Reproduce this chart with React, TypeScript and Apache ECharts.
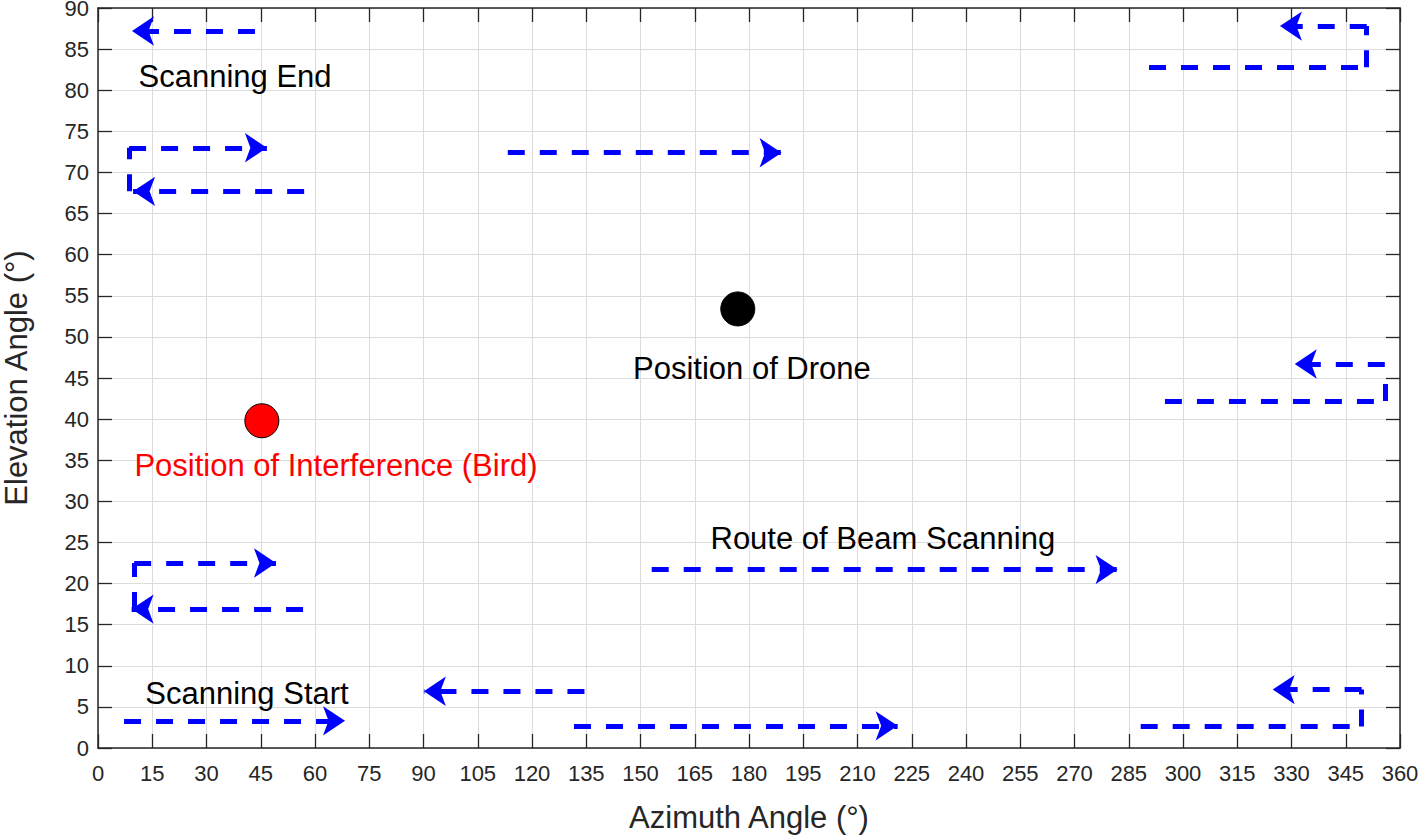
import React, { useEffect, useRef } from "react";
import * as echarts from "echarts";

// x ticks and y ticks
const xMin = 0;
const xMax = 360;
const xStep = 15;
const yMin = 0;
const yMax = 90;
const yStep = 5;

// Dashed beam-scanning segments ending with an arrow head: [x1, y1, x2(tip), y2]
const arrowSegments: number[][] = [
  [43.4, 87.2, 9.4, 87.2],
  [350.8, 87.8, 326.8, 87.8],
  [8.6, 73.0, 46.7, 73.0],
  [57.0, 67.7, 9.7, 67.7],
  [113.3, 72.4, 189.0, 72.4],
  [355.8, 46.7, 330.9, 46.7],
  [10.0, 22.5, 49.2, 22.5],
  [56.7, 16.9, 9.3, 16.9],
  [153.1, 21.7, 281.9, 21.7],
  [7.2, 3.3, 68.3, 3.3],
  [134.5, 6.9, 90.1, 6.9],
  [131.6, 2.7, 221.1, 2.7],
  [349.4, 7.1, 324.8, 7.1],
];

// Dashed connector segments without arrow heads
const plainSegments: number[][] = [
  [290.6, 82.8, 350.8, 82.8],
  [350.8, 82.8, 350.8, 87.8],
  [8.6, 67.7, 8.6, 73.0],
  [295.0, 42.2, 355.8, 42.2],
  [355.8, 42.2, 355.8, 44.8],
  [10.0, 16.9, 10.0, 22.5],
  [288.3, 2.6, 349.4, 2.6],
  [349.4, 2.6, 349.4, 7.1],
];

const dronePosition = [176.9, 53.4];
const birdPosition = [45.3, 39.8];

const blackLabels = ["Scanning End", "Position of Drone", "Route of Beam Scanning", "Scanning Start"];
const blackLabelPositions = [
  [37.9, 81.7],
  [180.8, 46.1],
  [217.0, 25.5],
  [41.2, 6.6],
];
const redLabels = ["Position of Interference (Bird)"];
const redLabelPositions = [[65.8, 34.3]];

const FONT = "Arial, 'Liberation Sans', Helvetica, sans-serif";
const AXIS_COLOR = "#262626";
const BLUE = "#0000ff";

export default function App() {
  const ref = useRef<HTMLDivElement>(null);

  useEffect(() => {
    if (!ref.current) return;
    const chart = echarts.init(ref.current, undefined, { renderer: "svg" });

    const axisCommon = {
      type: "value" as const,
      axisLine: { show: true, onZero: false, lineStyle: { color: AXIS_COLOR, width: 1.5 } },
      axisTick: { show: true, inside: true, length: 14, lineStyle: { color: AXIS_COLOR, width: 1.3 } },
    };

    const toLines = (segs: number[][]) =>
      segs.map((s) => ({ coords: [[s[0], s[1]], [s[2], s[3]]] }));

    const labelSeries = (names: string[], positions: number[][], color: string) => ({
      type: "scatter",
      xAxisIndex: 0,
      yAxisIndex: 0,
      symbol: "circle",
      symbolSize: 1,
      itemStyle: { color: "rgba(0,0,0,0)", opacity: 1 },
      silent: true,
      label: {
        show: true,
        position: "inside",
        formatter: "{b}",
        color,
        opacity: 1,
        fontSize: 31,
        fontFamily: FONT,
      },
      data: names.map((n, i) => ({ name: n, value: positions[i] })),
      z: 5,
    });

    const option: any = {
      animation: false,
      backgroundColor: "#ffffff",
      grid: {
        left: 98,
        right: 18,
        top: 8,
        bottom: 87,
        containLabel: false,
        outerBoundsMode: "none",
      },
      xAxis: [
        {
          ...axisCommon,
          position: "bottom",
          min: xMin,
          max: xMax,
          interval: xStep,
          axisLabel: { color: AXIS_COLOR, fontSize: 22, fontFamily: FONT, margin: 14 },
          splitLine: { show: true, lineStyle: { color: "#dcdcdc", width: 1 } },
          name: "Azimuth Angle (°)",
          nameLocation: "middle",
          nameGap: 54,
          nameTextStyle: { color: AXIS_COLOR, fontSize: 31, fontFamily: FONT },
        },
        {
          ...axisCommon,
          position: "top",
          min: xMin,
          max: xMax,
          interval: xStep,
          axisLabel: { show: false },
          splitLine: { show: false },
        },
      ],
      yAxis: [
        {
          ...axisCommon,
          position: "left",
          min: yMin,
          max: yMax,
          interval: yStep,
          axisLabel: { color: AXIS_COLOR, fontSize: 22, fontFamily: FONT, margin: 9 },
          splitLine: { show: true, lineStyle: { color: "#dcdcdc", width: 1 } },
          name: "Elevation Angle (°)",
          nameLocation: "middle",
          nameGap: 66,
          nameTextStyle: { color: AXIS_COLOR, fontSize: 31, fontFamily: FONT },
        },
        {
          ...axisCommon,
          position: "right",
          min: yMin,
          max: yMax,
          interval: yStep,
          axisLabel: { show: false },
          splitLine: { show: false },
        },
      ],
      series: [
        {
          type: "lines",
          coordinateSystem: "cartesian2d",
          xAxisIndex: 0,
          yAxisIndex: 0,
          symbol: ["none", "arrow"],
          symbolSize: [18, 22],
          lineStyle: { color: BLUE, width: 5, type: [17, 15], opacity: 1 },
          data: toLines(arrowSegments),
          z: 3,
        },
        {
          type: "lines",
          coordinateSystem: "cartesian2d",
          xAxisIndex: 0,
          yAxisIndex: 0,
          symbol: ["none", "none"],
          lineStyle: { color: BLUE, width: 5, type: [17, 15], opacity: 1 },
          data: toLines(plainSegments),
          z: 3,
        },
        {
          type: "scatter",
          xAxisIndex: 0,
          yAxisIndex: 0,
          symbol: "circle",
          symbolSize: 34,
          data: [
            { value: dronePosition, itemStyle: { color: "#000000", borderColor: "#000000", borderWidth: 1, opacity: 1 } },
            { value: birdPosition, itemStyle: { color: "#ff0000", borderColor: "#000000", borderWidth: 1, opacity: 1 } },
          ],
          z: 4,
        },
        labelSeries(blackLabels, blackLabelPositions, "#000000"),
        labelSeries(redLabels, redLabelPositions, "#ff0000"),
      ],
    };

    chart.setOption(option);
    return () => chart.dispose();
  }, []);

  return (
    <div
      ref={ref}
      style={{ position: "fixed", left: 0, top: 0, width: 1418, height: 835, background: "#fff" }}
    />
  );
}
